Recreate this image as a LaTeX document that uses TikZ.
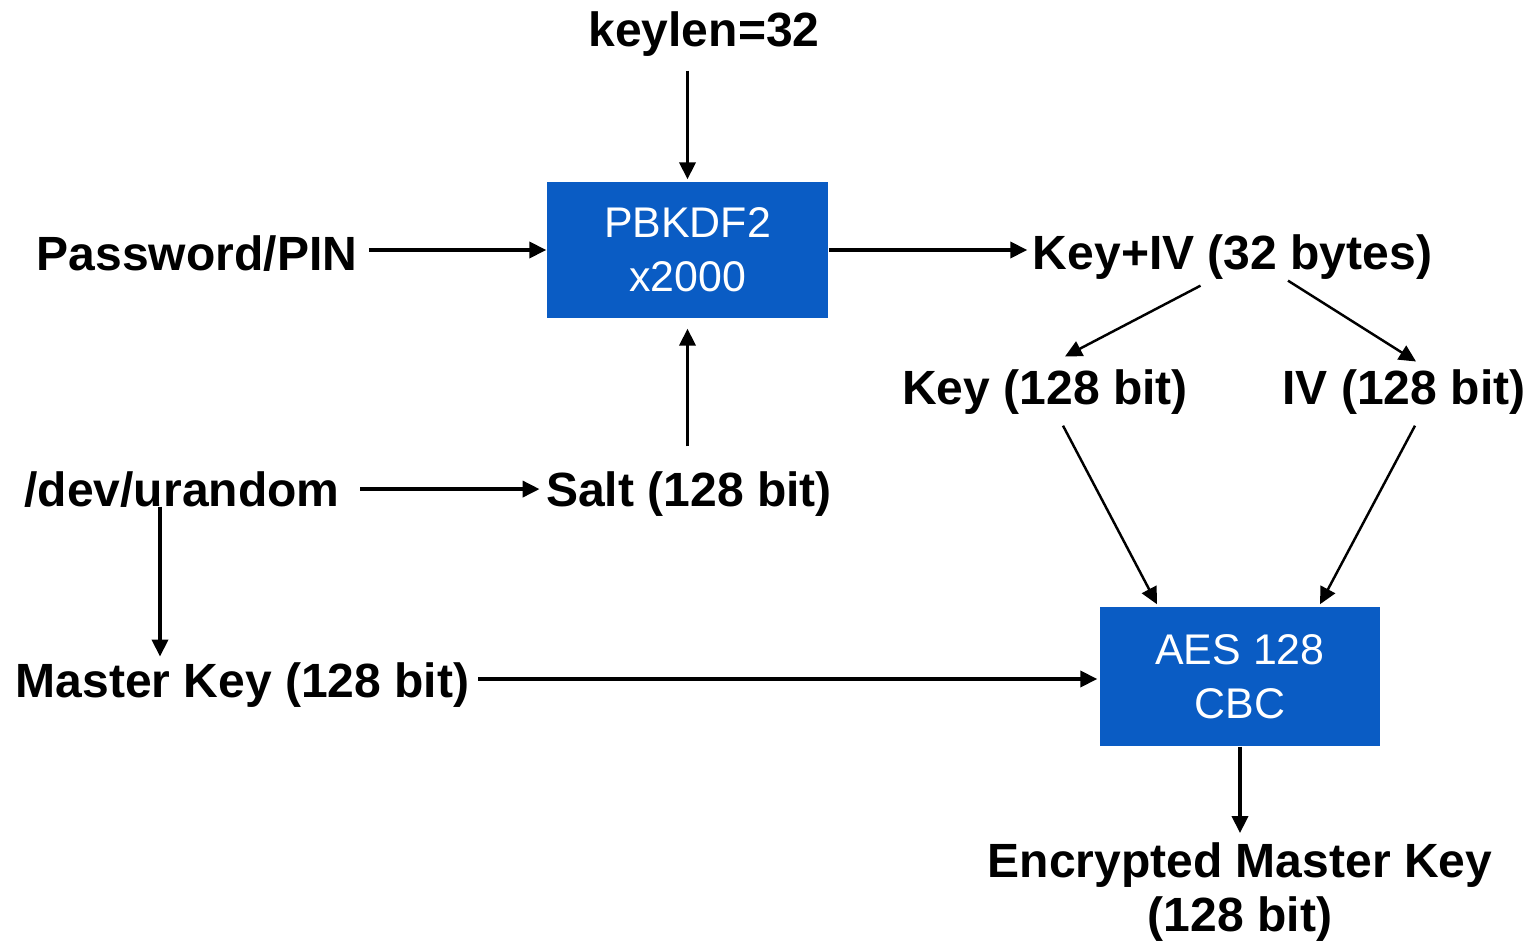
\documentclass[tikz,border=0pt]{standalone}
\usepackage{fontspec}
\setmainfont{Liberation Sans}
\usetikzlibrary{arrows.meta,calc}
\definecolor{boxblue}{RGB}{10,92,196}
\begin{document}
\begin{tikzpicture}[x=0.01cm,y=-0.01cm,
  lbl/.style={font=\fontsize{13.66}{15.4}\selectfont\bfseries, inner sep=0pt, anchor=base},
  proc/.style={fill=boxblue, text=white, font=\fontsize{12.2}{15.4}\selectfont, align=center, inner sep=0pt, minimum width=2.81cm, minimum height=1.36cm},
  arr/.style={-{Triangle[length=4.8pt,width=4.6pt]}, line width=0.9pt},
  darr/.style={arr, line width=0.7pt}]
\useasboundingbox (0,0) rectangle (1536,943);

\node[lbl] (keylen) at (704,47) {keylen=32};
\node[lbl] (pwd) at (197,271) {Password/PIN};
\node[proc] (pb) at (687.5,250) {PBKDF2\\x2000};
\node[lbl] (keyiv) at (1232.5,270) {Key+IV (32 bytes)};
\node[lbl] (key) at (1045,405) {Key (128 bit)};
\node[lbl] (iv) at (1404,405) {IV (128 bit)};
\node[lbl] (dev) at (182,507) {/dev/urandom};
\node[lbl] (salt) at (689,507) {Salt (128 bit)};
\node[lbl] (mk) at (242.5,697) {Master Key (128 bit)};
\node[proc, minimum width=2.8cm, minimum height=1.39cm] (aes) at (1240,676.5) {AES 128\\CBC};
\node[lbl, anchor=north, align=center] (enc) at (1240,842) {Encrypted Master Key\\(128 bit)};

\draw[arr, shorten <=1.3mm, shorten >=0.2mm] (keylen.south -| pb.north) -- (pb.north);
\draw[arr, shorten <=1.1mm] (pwd.east |- pb.west) -- (pb.west);
\draw[arr, shorten >=0.5mm] (pb.east) -- (keyiv.west |- pb.east);
\draw[darr] ($(keyiv.south)+(-32,5)$) -- ($(key.north)+(20,-13)$);
\draw[darr] ($(keyiv.south)+(55.5,0)$) -- ($(iv.north)+(12,-8)$);
\draw[darr] ($(key.south)+(18,10)$) -- ($(aes.north)+(-83,-2)$);
\draw[darr] ($(iv.south)+(11,10)$) -- ($(aes.north)+(80,-2)$);
\draw[arr, shorten <=2.5mm, shorten >=1mm] (salt.north -| pb.south) -- (pb.south);
\draw[arr] ($(dev.east)+(20,-1)$) -- ($(salt.west |- dev.east)+(-6,-1)$);
\draw[arr, shorten >=0.5mm] ($(dev.south)+(-22,-2)$) -- ($(mk.north)+(-82.5,0)$);
\draw[arr] ($(mk.east |- aes.west)+(8,2.5)$) -- ($(aes.west)+(-2,2.5)$);
\draw[arr, shorten >=0.9mm] (aes.south) -- (aes.south |- enc.north);
\end{tikzpicture}
\end{document}
